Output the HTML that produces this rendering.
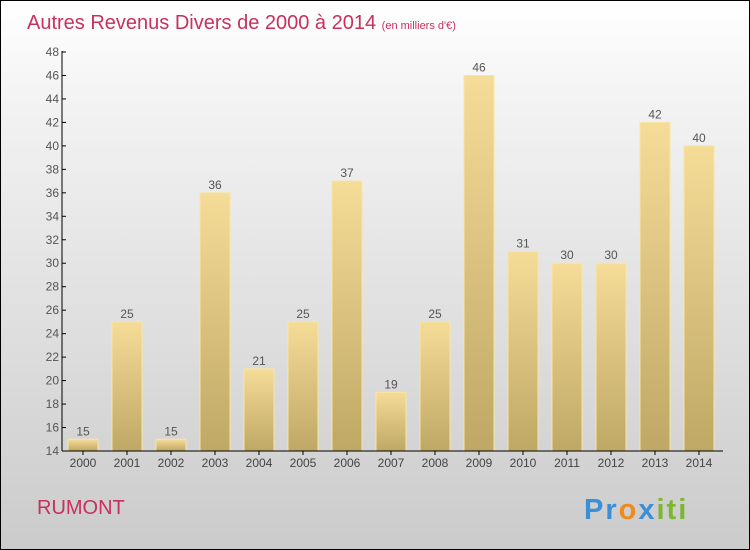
<!DOCTYPE html>
<html><head><meta charset="utf-8"><style>
body{margin:0;}
#c{position:relative;width:748px;height:548px;border:1px solid #000;background:linear-gradient(#fff,#f2f2f2 20%,#cbcbcb);font-family:"Liberation Sans",sans-serif;overflow:hidden}
</style></head><body>
<div id="c">
<svg id="s" width="748" height="548" style="position:absolute;left:0;top:0">
<defs>
<linearGradient id="g" x1="0" y1="0" x2="0" y2="1"><stop offset="0" stop-color="#f5dc97"/><stop offset="1" stop-color="#bfa765"/></linearGradient>
</defs>
<text x="26" y="28" font-size="20" fill="#c8305f">Autres Revenus Divers de 2000 à 2014 <tspan font-size="11">(en milliers d'€)</tspan></text>
<text x="36" y="513" font-size="20" fill="#c8305f">RUMONT</text>
<text x="583" y="518" font-size="29" font-weight="bold" letter-spacing="2"><tspan fill="#3a8fd6">Pr</tspan><tspan fill="#f08a1c">o</tspan><tspan fill="#3a8fd6">x</tspan><tspan fill="#7cb82f">iti</tspan></text>
</svg>
</div>
<script>
const years=["2000","2001","2002","2003","2004","2005","2006","2007","2008","2009","2010","2011","2012","2013","2014"];
const values=[15,25,15,36,21,25,37,19,25,46,31,30,30,42,40];
const ticks=[14,16,18,20,22,24,26,28,30,32,34,36,38,40,42,44,46,48];
const s=document.getElementById('s'),NS='http://www.w3.org/2000/svg';
const y0=450,ppu=399/34,ymin=14;
function Y(v){return y0-(v-ymin)*ppu;}
function X(i){return 82+44*i;}
function mk(t,a,txt){const e=document.createElementNS(NS,t);for(const k in a)e.setAttribute(k,a[k]);if(txt!==undefined)e.textContent=txt;s.appendChild(e);return e;}
values.forEach((v,i)=>{
 const r=mk('rect',{x:X(i)-15,y:Y(v),width:30,height:y0-Y(v),fill:'url(#g)',stroke:'#f8e4a8','stroke-width':1});
 
 
 const t=mk('text',{x:X(i),y:Y(v)-4,'text-anchor':'middle','font-size':12,fill:'#555'},v);
 
 
 const xl=mk('text',{x:X(i),y:466,'text-anchor':'middle','font-size':12,fill:'#444'},years[i]);
 
 
 mk('line',{x1:X(i),x2:X(i),y1:y0,y2:y0+4,stroke:'#000'});
});
ticks.forEach(t=>{
 mk('line',{x1:61,x2:65,y1:Y(t),y2:Y(t),stroke:'#000'});
 const l=mk('text',{x:58,y:Y(t)+4,'text-anchor':'end','font-size':12,fill:'#555'},t);
 
 
});
const ya=mk('line',{x1:61,x2:61,y1:50,y2:y0,stroke:'#000'});


const xa=mk('line',{x1:61,x2:722,y1:y0,y2:y0,stroke:'#000'});


</script>
</body></html>
